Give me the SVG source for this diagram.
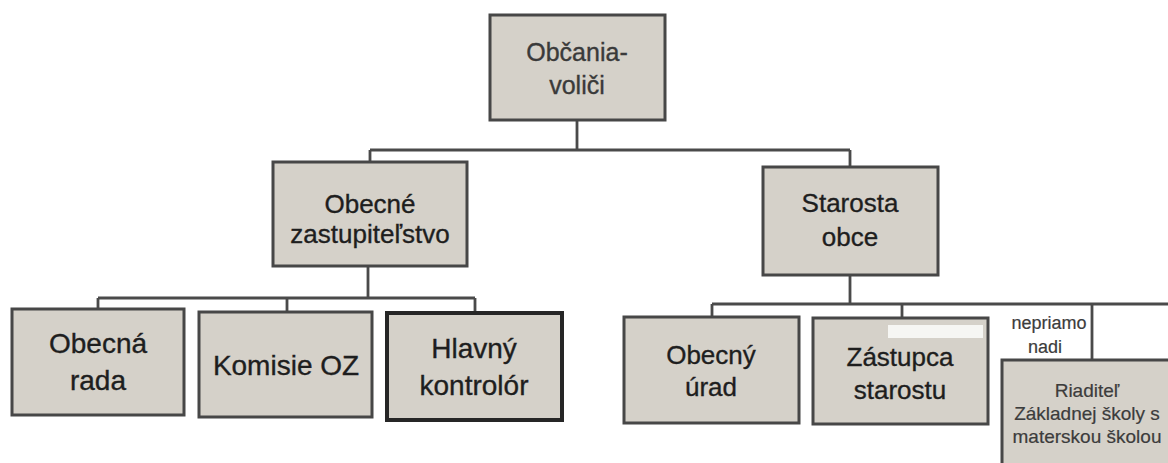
<svg xmlns="http://www.w3.org/2000/svg" width="1168" height="463" viewBox="0 0 1168 463">
<style>
.box{fill:#d5d1c9;stroke:#474747;stroke-width:3}
.thick{stroke:#262626;stroke-width:4}
.ln{fill:none;stroke:#4a4a4a;stroke-width:2.8}
text{font-family:"Liberation Sans",Arial,sans-serif;fill:#1e1e1e;stroke:#1e1e1e;stroke-width:0.35;text-anchor:middle}
.t25{font-size:25px;fill:#3a3a3a;stroke:#3a3a3a}
.t26{font-size:26px}
.t28{font-size:28px}
.t19{font-size:19px;fill:#3c3c3c;stroke:#3c3c3c;stroke-width:0.2}
.t18{font-size:18px;fill:#3c3c3c;stroke:#3c3c3c;stroke-width:0.2}
</style>
<rect width="1168" height="463" fill="#ffffff"/>
<g id="connectors">
<path class="ln" d="M577 120V150M370 150H850M370 150V162M850 150V167"/>
<path class="ln" d="M368 266V298M98 298H475M98 298V309M287 298V312M475 298V313"/>
<path class="ln" d="M850 275V304M712 304H1168M712 304V317M902 304V318"/>
<path class="ln" d="M1092 304V360"/>
</g>
<g id="obcania">
<rect class="box" x="490" y="15" width="175" height="105"/>
<text class="t25" x="577" y="61">Občania-</text>
<text class="t25" x="577" y="94">voliči</text>
</g>
<g id="zastupitelstvo">
<rect class="box" x="273" y="162" width="194" height="104"/>
<text class="t26" x="370" y="213">Obecné</text>
<text class="t26" x="370" y="243">zastupiteľstvo</text>
</g>
<g id="starosta">
<rect class="box" x="763" y="167" width="175" height="108"/>
<text class="t26" x="850" y="212">Starosta</text>
<text class="t26" x="850" y="246">obce</text>
</g>
<g id="obecna-rada">
<rect class="box" x="12" y="309" width="172" height="106"/>
<text class="t28" x="98" y="353">Obecná</text>
<text class="t28" x="98" y="390">rada</text>
</g>
<g id="komisie">
<rect class="box" x="199" y="312" width="173" height="105"/>
<text class="t28" x="286" y="375">Komisie OZ</text>
</g>
<g id="kontrolor">
<rect class="box thick" x="387" y="313" width="175" height="107"/>
<text class="t28" x="474" y="358">Hlavný</text>
<text class="t28" x="474" y="395">kontrolór</text>
</g>
<g id="obecny-urad">
<rect class="box" x="624" y="317" width="175" height="106"/>
<text class="t26" x="711" y="364">Obecný</text>
<text class="t26" x="711" y="396">úrad</text>
</g>
<g id="zastupca">
<rect class="box" x="813" y="318" width="175" height="106"/>
<rect x="888" y="325" width="95" height="13" fill="#f6f6f3"/>
<text class="t26" x="900" y="366">Zástupca</text>
<text class="t26" x="900" y="399">starostu</text>
</g>
<g id="nepriamo">
<text class="t18" x="1049" y="329">nepriamo</text>
<text class="t18" x="1045" y="353">nadi</text>
</g>
<g id="riaditel">
<rect class="box" x="1002" y="360" width="180" height="112"/>
<text class="t19" x="1087" y="397">Riaditeľ</text>
<text class="t19" x="1087" y="420">Základnej školy s</text>
<text class="t19" x="1087" y="443">materskou školou</text>
</g>
</svg>
